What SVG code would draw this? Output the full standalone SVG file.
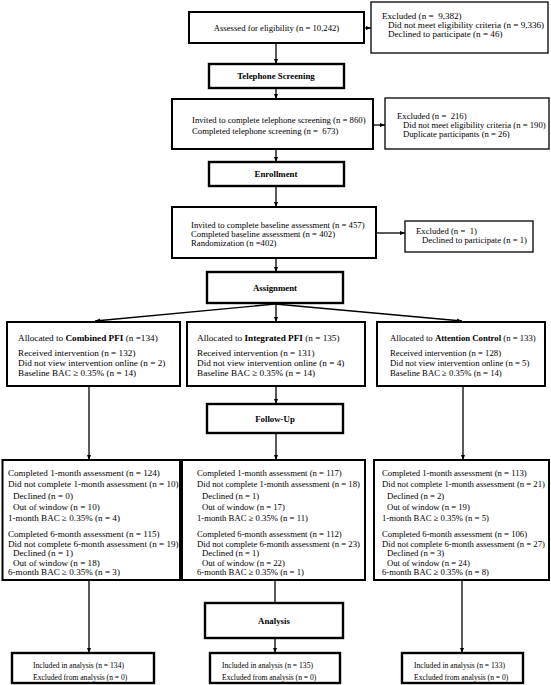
<svg xmlns="http://www.w3.org/2000/svg" width="551" height="685" viewBox="0 0 551 685">
<style>
text{font-family:"Liberation Serif","Times New Roman",serif;font-size:8.7px;fill:#000;white-space:pre}
.h{font-weight:bold;font-size:8.8px;text-anchor:middle}
.c{text-anchor:middle}
.s{font-size:7.6px}
.w{font-size:9.1px}
.v{font-size:9.2px}
.b{fill:#fff;stroke:#000;stroke-width:2}
.e{fill:#fff;stroke:#000;stroke-width:1.3}
.k{fill:#fff;stroke:#000;stroke-width:2.4}
.l{stroke:#000;stroke-width:1.3;fill:none}
.a{marker-end:url(#ah)}
</style>
<defs>
<marker id="ah" viewBox="0 0 10 10" refX="10" refY="5" markerWidth="5" markerHeight="5" markerUnits="userSpaceOnUse" orient="auto"><path d="M0,1 L10,5 L0,9 z" fill="#000"/></marker>
</defs>
<rect width="551" height="685" fill="#fff"/>
<g id="connectors">
<line class="l a" x1="364" y1="28" x2="371" y2="28"/>
<line class="l a" x1="276" y1="43" x2="276" y2="64"/>
<line class="l a" x1="276" y1="88" x2="276" y2="99"/>
<line class="l a" x1="373" y1="125" x2="385" y2="125"/>
<line class="l a" x1="276" y1="149" x2="276" y2="162"/>
<line class="l a" x1="276" y1="186" x2="276" y2="207"/>
<line class="l a" x1="376" y1="233" x2="405" y2="233"/>
<line class="l a" x1="276" y1="258" x2="276" y2="272"/>
<line class="l a" x1="275" y1="304" x2="95" y2="321"/>
<line class="l a" x1="276" y1="304" x2="276" y2="322"/>
<line class="l a" x1="275" y1="304" x2="462" y2="321"/>
<line class="l a" x1="89" y1="386" x2="89" y2="460"/>
<line class="l a" x1="276" y1="386" x2="276" y2="404"/>
<line class="l a" x1="276" y1="433" x2="276" y2="460"/>
<line class="l a" x1="463" y1="386" x2="463" y2="460"/>
<line class="l a" x1="89" y1="580" x2="89" y2="653"/>
<line class="l" x1="275" y1="580" x2="275" y2="603"/>
<line class="l a" x1="275" y1="638" x2="275" y2="653"/>
<line class="l a" x1="462" y1="580" x2="462" y2="653"/>
</g>
<g id="assessed">
<rect class="b" x="189" y="12" width="175" height="31"/>
<text class="c" x="276.5" y="31">Assessed for eligibility (n = 10,242)</text>
</g>
<g id="excluded1">
<rect class="e" x="371" y="2" width="177" height="51"/>
<text class="w" x="382" y="18.5">Excluded (n =  9,382)</text>
<text class="w" x="388" y="27.5">Did not meet eligibility criteria (n = 9,336)</text>
<text class="w" x="388" y="36.5">Declined to participate (n = 46)</text>
</g>
<g id="telephone">
<rect class="k" x="209" y="64" width="135" height="24"/>
<text class="h" x="276" y="79">Telephone Screening</text>
</g>
<g id="invited">
<rect class="b" x="172" y="99" width="201" height="50"/>
<text x="192" y="123">Invited to complete telephone screening (n = 860)</text>
<text x="192" y="134">Completed telephone screening (n =  673)</text>
</g>
<g id="excluded2">
<rect class="e" x="385" y="98" width="164" height="51"/>
<text x="397" y="118.5">Excluded (n =  216)</text>
<text x="403" y="127.5">Did not meet eligibility criteria (n = 190)</text>
<text x="403" y="136.5">Duplicate participants (n = 26)</text>
</g>
<g id="enrollment">
<rect class="k" x="209" y="162" width="135" height="24"/>
<text class="h" x="276" y="177">Enrollment</text>
</g>
<g id="baseline">
<rect class="b" x="172" y="207" width="204" height="51"/>
<text x="191" y="228">Invited to complete baseline assessment (n = 457)</text>
<text x="191" y="237">Completed baseline assessment (n = 402)</text>
<text x="191" y="246">Randomization (n =402)</text>
</g>
<g id="excluded3">
<rect class="e" x="405" y="221" width="128" height="31"/>
<text x="416" y="233.5">Excluded (n =  1)</text>
<text x="422" y="242.5">Declined to participate (n = 1)</text>
</g>
<g id="assignment">
<rect class="k" x="207" y="272" width="136" height="31"/>
<text class="h" x="275" y="290.5">Assignment</text>
</g>
<g id="alloc-combined">
<rect class="b" x="7" y="322" width="173" height="64"/>
<text class="v" x="18" y="341">Allocated to <tspan font-weight="bold">Combined PFI</tspan> (n =134)</text>
<text class="v" x="18" y="356">Received intervention (n = 132)</text>
<text class="v" x="18" y="366">Did not view intervention online (n = 2)</text>
<text class="v" x="18" y="376">Baseline BAC ≥ 0.35% (n = 14)</text>
</g>
<g id="alloc-integrated">
<rect class="b" x="187" y="322" width="178" height="64"/>
<text class="v" x="197" y="341">Allocated to <tspan font-weight="bold">Integrated PFI</tspan> (n = 135)</text>
<text class="v" x="197" y="356">Received intervention (n = 131)</text>
<text class="v" x="197" y="366">Did not view intervention online (n = 4)</text>
<text class="v" x="197" y="376">Baseline BAC ≥ 0.35% (n = 14)</text>
</g>
<g id="alloc-attention">
<rect class="b" x="377" y="322" width="168" height="64"/>
<text x="390" y="341">Allocated to <tspan font-weight="bold">Attention Control</tspan> (n = 133)</text>
<text x="390" y="356">Received intervention (n = 128)</text>
<text x="390" y="366">Did not view intervention online (n = 5)</text>
<text x="390" y="376">Baseline BAC ≥ 0.35% (n = 14)</text>
</g>
<g id="followup">
<rect class="k" x="207" y="404" width="136" height="29"/>
<text class="h" x="275" y="421.5">Follow-Up</text>
</g>
<g id="fu-combined">
<rect class="b" x="2.5" y="460" width="177.5" height="120"/>
<text class="w" x="8" y="476">Completed 1-month assessment (n = 124)</text>
<text class="w" x="8" y="487">Did not complete 1-month assessment (n = 10)</text>
<text class="w" x="13" y="498.5">Declined (n = 0)</text>
<text class="w" x="13" y="509.5">Out of window (n = 10)</text>
<text class="w" x="8" y="521">1-month BAC ≥ 0.35% (n = 4)</text>
<text class="w" x="8" y="537">Completed 6-month assessment (n = 115)</text>
<text class="w" x="8" y="546.5">Did not complete 6-month assessment (n = 19)</text>
<text class="w" x="13" y="556">Declined (n = 1)</text>
<text class="w" x="13" y="565.5">Out of window (n = 18)</text>
<text class="w" x="8" y="575">6-month BAC ≥ 0.35% (n = 3)</text>
</g>
<g id="fu-integrated">
<rect class="b" x="182" y="460" width="183" height="120"/>
<text x="197" y="476">Completed 1-month assessment (n = 117)</text>
<text x="197" y="487">Did not complete 1-month assessment (n = 18)</text>
<text x="202" y="498.5">Declined (n = 1)</text>
<text x="202" y="509.5">Out of window (n = 17)</text>
<text x="197" y="521">1-month BAC ≥ 0.35% (n = 11)</text>
<text x="197" y="537">Completed 6-month assessment (n = 112)</text>
<text x="197" y="546.5">Did not complete 6-month assessment (n = 23)</text>
<text x="202" y="556">Declined (n = 1)</text>
<text x="202" y="565.5">Out of window (n = 22)</text>
<text x="197" y="575">6-month BAC ≥ 0.35% (n = 1)</text>
</g>
<g id="fu-attention">
<rect class="b" x="374" y="460" width="175" height="120"/>
<text x="382" y="476">Completed 1-month assessment (n = 113)</text>
<text x="382" y="487">Did not complete 1-month assessment (n = 21)</text>
<text x="387" y="498.5">Declined (n = 2)</text>
<text x="387" y="509.5">Out of window (n = 19)</text>
<text x="382" y="521">1-month BAC ≥ 0.35% (n = 5)</text>
<text x="382" y="537">Completed 6-month assessment (n = 106)</text>
<text x="382" y="546.5">Did not complete 6-month assessment (n = 27)</text>
<text x="387" y="556">Declined (n = 3)</text>
<text x="387" y="565.5">Out of window (n = 24)</text>
<text x="382" y="575">6-month BAC ≥ 0.35% (n = 8)</text>
</g>
<g id="analysis">
<rect class="k" x="205" y="603" width="138" height="35"/>
<text class="h" x="274" y="624">Analysis</text>
</g>
<g id="an-combined">
<rect class="k" x="12" y="653" width="142" height="30"/>
<text class="s" x="33" y="668">Included in analysis (n = 134)</text>
<text class="s" x="33" y="679.5">Excluded from analysis (n = 0)</text>
</g>
<g id="an-integrated">
<rect class="k" x="210" y="653" width="130" height="30"/>
<text class="s" x="222" y="668">Included in analysis (n = 135)</text>
<text class="s" x="222" y="679.5">Excluded from analysis (n = 0)</text>
</g>
<g id="an-attention">
<rect class="k" x="402" y="653" width="121" height="30"/>
<text class="s" x="414" y="668">Included in analysis (n = 133)</text>
<text class="s" x="414" y="679.5">Excluded from analysis (n = 0)</text>
</g>
</svg>
